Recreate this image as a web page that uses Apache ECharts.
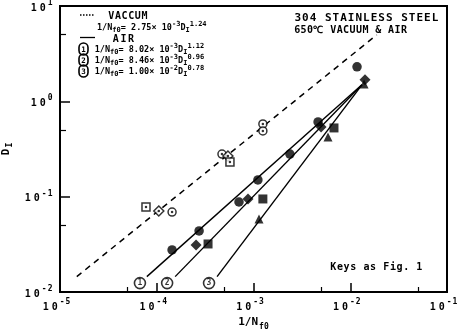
<!DOCTYPE html>
<html><head><meta charset="utf-8">
<script src="https://cdn.jsdelivr.net/npm/echarts@6/dist/echarts.min.js"></script>
<style>html,body{margin:0;padding:0;background:#fff}#c{width:458px;height:331px}</style>
</head><body><div id="c"></div>
<script>
// ---- tick labels ----
const xTickValues = [1e-5, 1e-4, 1e-3, 1e-2, 1e-1];
const xTickExps = ['-5', '-4', '-3', '-2', '-1'];
const yTickValues = [1e-2, 1e-1, 1e0, 1e1];
const yTickExps = ['-2', '-1', '0', '1'];
const xMinorTicks = [5e-5, 5e-4, 5e-3, 5e-2];
const yMinorTicks = [5e-2, 5e-1, 5e0];

// ---- fitted lines (end points) ----
const vacuumFit = [[1.49e-5, 0.0145], [1.88e-2, 4.98]];
const air1Fit = [[7.9e-5, 0.0145], [1.32e-2, 1.49]];
const air2Fit = [[1.55e-4, 0.0145], [1.32e-2, 1.49]];
const air3Fit = [[4.2e-4, 0.0145], [1.32e-2, 1.49]];

// ---- vacuum data (open symbols) ----
const vacCircles = [[1.44e-4, 0.069], [4.72e-4, 0.28], [1.25e-3, 0.58], [1.25e-3, 0.489]];
const vacDiamonds = [[1.05e-4, 0.0708], [5.44e-4, 0.267]];
const vacSquares = [[7.74e-5, 0.078], [5.71e-4, 0.231]];

// ---- air data (filled symbols) ----
const airCircles = [[1.44e-4, 0.0276], [2.74e-4, 0.0437], [7.08e-4, 0.0879], [1.11e-3, 0.150], [2.38e-3, 0.280], [4.65e-3, 0.608], [1.175e-2, 2.30]];
const airDiamonds = [[2.55e-4, 0.0311], [8.77e-4, 0.0946], [4.99e-3, 0.538], [1.42e-2, 1.68]];
const airSquares = [[3.39e-4, 0.0319], [1.25e-3, 0.0946], [6.79e-3, 0.526]];
const airTriangles = [[1.14e-3, 0.0583], [5.89e-3, 0.423], [1.39e-2, 1.52]];

// ---- curve number labels ----
const curveLabelPoints = [[6.7e-5, 0.0124], [1.28e-4, 0.0124], [3.47e-4, 0.0124]];
const curveLabelNames = ['1', '2', '3'];

// ---- texts ----
const headerLine1 = '304 STAINLESS STEEL';
const headerLine2 = '650\u2103 VACUUM & AIR';
const keysText = 'Keys as Fig. 1';
const vacuumEq = ['2.75', '-3', '1.24'];
const airEqs = [['8.02', '-3', '1.12'], ['8.46', '-3', '0.96'], ['1.00', '-2', '0.78']];

const F = 'DejaVu Sans Mono';
function sp(str, st) { return str.split('').map(c => '{' + st + '|' + c + '}').join(''); }
function tok(str, st) { return '{' + st + '|' + str + '}'; }

const axisRich = {
  b: { fontFamily: F, fontWeight: 'bold', fontSize: 10, color: '#000', padding: [4, 1.5, 0, 1.5], verticalAlign: 'top' },
  s: { fontFamily: F, fontWeight: 'bold', fontSize: 8, color: '#000', padding: [0, 0.5, 0, 0.5], verticalAlign: 'top' }
};
function expLabel(vals, exps) {
  return v => {
    const i = vals.findIndex(t => Math.abs(Math.log10(t / v)) < 1e-6);
    return i < 0 ? '' : sp('10', 'b') + sp(exps[i], 's');
  };
}
const eqRich = {
  m: { fontFamily: F, fontWeight: 'bold', fontSize: 8.5, color: '#000', padding: [3, 0, 0, 0], verticalAlign: 'top' },
  s: { fontFamily: F, fontWeight: 'bold', fontSize: 7, color: '#000', padding: [0, 0, 0, 0], verticalAlign: 'top' },
  u: { fontFamily: F, fontWeight: 'bold', fontSize: 7, color: '#000', padding: [6, 0, 0, 0], verticalAlign: 'top' },
  c: { fontFamily: F, fontWeight: 'bold', fontSize: 7.5, color: '#000', borderColor: '#000', borderWidth: 1.6, borderRadius: 5, width: 9, height: 9, lineHeight: 9, align: 'center', padding: [3, 0, 0, 0] }
};
function eqText(e) {
  return tok('1/N', 'm') + tok('f0', 'u') + tok('= ' + e[0] + '\u00d7 10', 'm') + tok(e[1], 's') + tok('D', 'm') + tok('I', 'u') + tok(e[2], 's');
}

const blackLine = (w, t) => ({ color: '#000', width: w, type: t });
const vacStyle = { color: '#fff', borderColor: '#000', borderWidth: 1.5 };

const chart = echarts.init(document.getElementById('c'), null, { renderer: 'canvas' });
chart.setOption({
  animation: false,
  backgroundColor: '#fff',
  grid: { left: 60, right: 11, top: 6, bottom: 39, show: true, borderColor: '#000', borderWidth: 2, containLabel: false, outerBoundsMode: 'none' },
  xAxis: [{
    type: 'log', logBase: 10, min: xTickValues[0], max: xTickValues[xTickValues.length - 1],
    axisLine: { show: false }, splitLine: { show: false },
    axisTick: { show: true, inside: true, length: 9, lineStyle: { color: '#000', width: 1.5 } },
    axisLabel: { margin: 6, formatter: expLabel(xTickValues, xTickExps), rich: axisRich, padding: [0, 8, 0, 0], hideOverlap: false },
    name: tok('1/N', 'a') + tok('f0', 'u'), nameLocation: 'middle', nameGap: 20,
    nameTextStyle: { rich: {
      a: { fontFamily: F, fontWeight: 'bold', fontSize: 11, color: '#000', padding: [0, 0, 0, 0], verticalAlign: 'top' },
      u: { fontFamily: F, fontWeight: 'bold', fontSize: 8, color: '#000', padding: [6, 0, 0, 1], verticalAlign: 'top' } } }
  }, {
    type: 'log', logBase: 10, min: xTickValues[0], max: xTickValues[xTickValues.length - 1], position: 'bottom',
    axisLine: { show: false }, splitLine: { show: false }, axisLabel: { show: false },
    axisTick: { show: true, inside: true, length: 5, customValues: xMinorTicks, lineStyle: { color: '#000', width: 1.2 } }
  }],
  yAxis: [{
    type: 'log', logBase: 10, min: yTickValues[0], max: yTickValues[yTickValues.length - 1],
    axisLine: { show: false }, splitLine: { show: false },
    axisTick: { show: true, inside: true, length: 10, lineStyle: { color: '#000', width: 1.5 } },
    axisLabel: { margin: 7, formatter: expLabel(yTickValues, yTickExps), rich: axisRich },
    name: tok('D', 'a') + tok('I', 'u'), nameLocation: 'middle', nameRotate: 90, nameGap: 41,
    nameTextStyle: { rich: {
      a: { fontFamily: F, fontWeight: 'bold', fontSize: 11, color: '#000', verticalAlign: 'top' },
      u: { fontFamily: F, fontWeight: 'bold', fontSize: 8, color: '#000', padding: [5, 0, 0, 1], verticalAlign: 'top' } } }
  }, {
    type: 'log', logBase: 10, min: yTickValues[0], max: yTickValues[yTickValues.length - 1], position: 'left',
    axisLine: { show: false }, splitLine: { show: false }, axisLabel: { show: false },
    axisTick: { show: true, inside: true, length: 6, customValues: yMinorTicks, lineStyle: { color: '#000', width: 1.2 } }
  }],
  series: [
    { type: 'line', data: vacuumFit, symbol: 'none', lineStyle: blackLine(1.5, [6, 5]), z: 2 },
    { type: 'line', data: air1Fit, symbol: 'none', lineStyle: blackLine(1.4, 'solid'), z: 2 },
    { type: 'line', data: air2Fit, symbol: 'none', lineStyle: blackLine(1.4, 'solid'), z: 2 },
    { type: 'line', data: air3Fit, symbol: 'none', lineStyle: blackLine(1.4, 'solid'), z: 2 },
    { type: 'scatter', data: vacCircles, symbol: 'circle', symbolSize: 8, itemStyle: vacStyle, z: 3 },
    { type: 'scatter', data: vacDiamonds, symbol: 'diamond', symbolSize: 10, itemStyle: vacStyle, z: 3 },
    { type: 'scatter', data: vacSquares, symbol: 'rect', symbolSize: 8, itemStyle: vacStyle, z: 3 },
    { type: 'scatter', data: vacCircles.concat(vacDiamonds, vacSquares), symbol: 'circle', symbolSize: 2.5, itemStyle: { color: '#000' }, z: 4 },
    { type: 'scatter', data: airCircles, symbol: 'circle', symbolSize: 9.5, itemStyle: { color: '#000' }, z: 3 },
    { type: 'scatter', data: airDiamonds, symbol: 'diamond', symbolSize: 11, itemStyle: { color: '#000' }, z: 3 },
    { type: 'scatter', data: airSquares, symbol: 'rect', symbolSize: 9, itemStyle: { color: '#000' }, z: 3 },
    { type: 'scatter', data: airTriangles, symbol: 'triangle', symbolSize: 9, itemStyle: { color: '#000' }, z: 3 },
    { type: 'scatter', data: curveLabelPoints.map((p, i) => ({ value: p, name: curveLabelNames[i] })),
      symbol: 'circle', symbolSize: 11, itemStyle: { color: '#fff', borderColor: '#000', borderWidth: 1.6 }, z: 3,
      label: { show: true, position: 'inside', formatter: '{b}', fontFamily: F, fontWeight: 'bold', fontSize: 8, color: '#000' } }
  ],
  graphic: [
    { type: 'line', shape: { x1: 80, y1: 15, x2: 95, y2: 15 }, style: { stroke: '#000', lineWidth: 1.3, lineDash: [1.5, 1.5] } },
    { type: 'text', x: 108, y: 16, style: { text: sp('VACCUM', 'v'), rich: { v: { fontFamily: F, fontWeight: 'bold', fontSize: 10, padding: [0, 0.3, 0, 0.3], fill: '#000' } }, verticalAlign: 'middle' } },
    { type: 'text', x: 97, y: 27, style: { text: eqText(vacuumEq), rich: eqRich, verticalAlign: 'middle' } },
    { type: 'line', shape: { x1: 80, y1: 37.5, x2: 95, y2: 37.5 }, style: { stroke: '#000', lineWidth: 1.3 } },
    { type: 'text', x: 112, y: 39.5, style: { text: sp('AIR', 'v'), rich: { v: { fontFamily: F, fontWeight: 'bold', fontSize: 10, padding: [0, 0.8, 0, 0.8], fill: '#000' } }, verticalAlign: 'middle' } },
    { type: 'text', x: 79, y: 49, style: { text: tok('1', 'c') + '  ' + eqText(airEqs[0]), rich: eqRich, verticalAlign: 'middle' } },
    { type: 'text', x: 79, y: 60, style: { text: tok('2', 'c') + '  ' + eqText(airEqs[1]), rich: eqRich, verticalAlign: 'middle' } },
    { type: 'text', x: 79, y: 71, style: { text: tok('3', 'c') + '  ' + eqText(airEqs[2]), rich: eqRich, verticalAlign: 'middle' } },
    { type: 'text', x: 294, y: 18, style: { text: sp(headerLine1, 'h'), rich: { h: { fontFamily: F, fontWeight: 'bold', fontSize: 11, padding: [0, 0.5, 0, 0.5], fill: '#000' } }, verticalAlign: 'middle' } },
    { type: 'text', x: 294, y: 30, style: { text: sp(headerLine2, 'h'), rich: { h: { fontFamily: F, fontWeight: 'bold', fontSize: 10, padding: [0, 0.2, 0, 0.2], fill: '#000' } }, verticalAlign: 'middle' } },
    { type: 'text', x: 330, y: 267, style: { text: sp(keysText, 'k'), rich: { k: { fontFamily: F, fontWeight: 'bold', fontSize: 10, padding: [0, 0.3, 0, 0.3], fill: '#000' } }, verticalAlign: 'middle' } }
  ]
});
</script>
</body></html>
